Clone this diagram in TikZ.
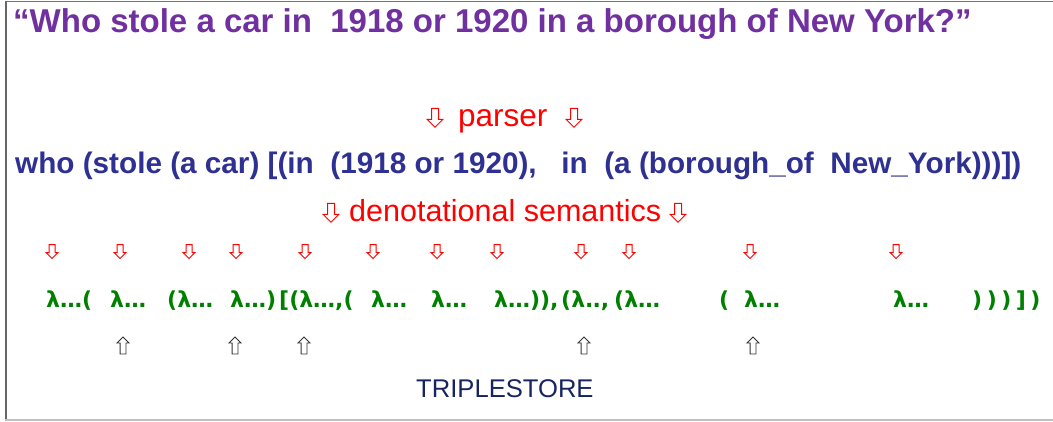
\documentclass[tikz,border=0pt]{standalone}
\usepackage{fontspec}
\setmainfont{Liberation Sans}
\newfontfamily\lamfont{DejaVu Sans}
\usepackage{tikz}
\usetikzlibrary{shapes.arrows, positioning}
\usepackage{xcolor}
\definecolor{qpurple}{RGB}{112,48,160}
\definecolor{qnavy}{RGB}{46,49,146}
\definecolor{qgreen}{RGB}{0,128,0}
\definecolor{qdark}{RGB}{22,36,98}

\begin{document}
\begin{tikzpicture}[x=1pt, y=-1pt, every node/.style={inner sep=0pt, anchor=base west}]
    % Define styles
    \tikzset{
        question/.style={text=qpurple, font=\fontsize{33}{38}\selectfont\bfseries},
        parsed/.style={text=qnavy, font=\fontsize{29.7}{34}\selectfont\bfseries},
        stage/.style={text=red, font=\fontsize{31.5}{36}\selectfont},
        lam/.style={text=qgreen, font=\lamfont\bfseries\fontsize{22}{26}\selectfont},
        store/.style={text=qdark, font=\fontsize{25.6}{30}\selectfont},
        bigdown/.style={single arrow, draw=red, fill=white, line width=1pt, shape border rotate=270, minimum height=19pt, inner sep=3pt, single arrow head extend=4.5pt, anchor=center},
        smalldown/.style={bigdown, minimum height=14pt, inner sep=2.5pt, single arrow head extend=3pt},
        smallup/.style={single arrow, draw=black!80, fill=white, line width=0.8pt, shape border rotate=90, minimum height=17pt, inner sep=2.5pt, single arrow head extend=3pt, anchor=center}
    }
    \useasboundingbox (0,0) rectangle (1053,421);

    % --- FRAME ---
    \draw[black!60, line width=2pt] (6,2) -- (6,421);
    \draw[black!55, line width=1.5pt] (5,1.5) -- (1053,1.5);
    \draw[black!25, line width=1.5pt] (5,420) -- (1053,420);

    % --- QUESTION AND PARSE ---
    \node (title) [question] at (13,32) {“Who stole a car in\ \ 1918 or 1920 in a borough of New York?”};

    \node (parser) [stage] at (458,126) {parser};
    \node (pa1) [bigdown] at (435,116) {};
    \node (pa2) [bigdown] at (574,116) {};

    \node (parsed) [parsed] at (15,173) {who (stole (a car) [(in\ \ (1918 or 1920),\ \ \ in\ \ (a (borough\_of\ \ New\_York)))])};

    \node (denot) [stage, font=\fontsize{30.5}{35}\selectfont] at (349,221) {denotational semantics};
    \node (da1) [bigdown] at (331,211) {};
    \node (da2) [bigdown] at (678,211) {};

    % --- LAMBDA TERMS ---
    \node (d1) [smalldown] at (52,250) {};
    \node (d2) [smalldown] at (120,250) {};
    \node (d3) [smalldown] at (189,250) {};
    \node (d4) [smalldown] at (236,250) {};
    \node (d5) [smalldown] at (305,250) {};
    \node (d6) [smalldown] at (373,250) {};
    \node (d7) [smalldown] at (437,250) {};
    \node (d8) [smalldown] at (497,250) {};
    \node (d9) [smalldown] at (581,250) {};
    \node (d10) [smalldown] at (629,250) {};
    \node (d11) [smalldown] at (750,250) {};
    \node (d12) [smalldown] at (896,250) {};

    \node (l1) [lam] at (46,307) {λ…(};
    \node (l2) [lam] at (110,307) {λ…};
    \node (l3) [lam] at (167,307) {(λ…};
    \node (l4) [lam] at (230,307) {λ…)};
    \node (l5) [lam] at (279,307) {[(λ…,(};
    \node (l6) [lam] at (371,307) {λ…};
    \node (l7) [lam] at (431,307) {λ…};
    \node (l8) [lam] at (494,307) {λ…)),};
    \node (l9) [lam] at (561,307) {(λ.\kern-1pt.,};
    \node (l10) [lam] at (614,307) {(λ…};
    \node (l11) [lam] at (719,307) {(};
    \node (l12) [lam] at (744,307) {λ…};
    \node (l13) [lam] at (893,307) {λ…};
    \node (l14) [lam] at (972,307) {)\kern4.5pt)\kern4.5pt)\kern4.5pt]\kern4.5pt)};

    % --- TRIPLESTORE ---
    \node (u1) [smallup] at (123,347) {};
    \node (u2) [smallup] at (235,347) {};
    \node (u3) [smallup] at (304,347) {};
    \node (u4) [smallup] at (584,347) {};
    \node (u5) [smallup] at (753,347) {};

    \node (store) [store] at (416,397) {TRIPLESTORE};

\end{tikzpicture}
\end{document}
